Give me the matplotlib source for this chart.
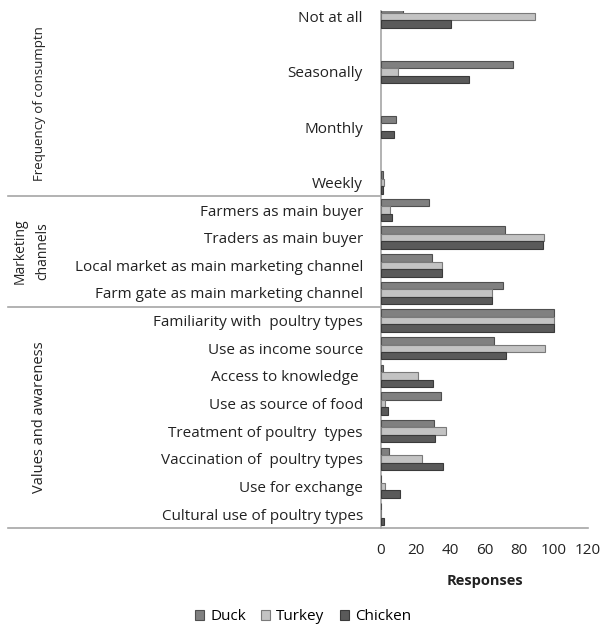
import matplotlib
matplotlib.use("Agg")
import matplotlib.pyplot as plt
from matplotlib.patches import Patch
from matplotlib.transforms import blended_transform_factory

plt.rcParams['font.family'] = ['Open Sans', 'DejaVu Sans']

# ---- data (top to bottom) ----
groups = ["Frequency of consumptn", "Marketing\nchannels", "Values and awareness"]
group_sizes = [4, 4, 8]
categories = [
    "Not at all", "Seasonally", "Monthly", "Weekly",
    "Farmers as main buyer", "Traders as main buyer",
    "Local market as main marketing channel", "Farm gate as main marketing channel",
    "Familiarity with  poultry types", "Use as income source", "Access to knowledge ",
    "Use as source of food", "Treatment of poultry  types", "Vaccination of  poultry types",
    "Use for exchange", "Cultural use of poultry types",
]
duck = [13, 76.5, 8.5, 1, 27.7, 72, 29.3, 70.9, 100, 65.3, 1, 34.5, 30.8, 4.4, 0, 0]
turkey = [89, 10, 0, 1.5, 5.2, 94.6, 35.5, 64.4, 100, 95.2, 21.4, 2.1, 37.6, 23.9, 2.3, 0]
chicken = [40.5, 51, 7.3, 1.2, 6.2, 93.8, 35.6, 64.5, 100, 72.3, 29.9, 3.9, 31.2, 36, 10.8, 1.9]
series_names = ["Duck", "Turkey", "Chicken"]
xticks = [0, 20, 40, 60, 80, 100, 120]

fills = ["#808080", "#c3c3c3", "#5a5a5a"]
edges = ["#4f4f4f", "#7a7a7a", "#3a3a3a"]
txt = "#222222"

# category slot positions: first group uses double spacing
slot_step = [2, 1, 1]
flat_steps = []
for g, n in enumerate(group_sizes):
    flat_steps += [slot_step[g]] * n
positions_rev = []
cur = 0
for step in reversed(flat_steps):
    positions_rev.append(cur)
    cur += step
pos = list(reversed(positions_rev))

W, H = 602, 628
fig = plt.figure(figsize=(W / 100, H / 100), dpi=100)
x0, x1, ytop, ybot = 381, 588, 11, 528
ax = fig.add_axes([x0 / W, (H - ybot) / H, (x1 - x0) / W, (ybot - ytop) / H])

px_per_unit = 27.65
ylim_low = -0.5
ylim_high = ylim_low + (ybot - ytop) / px_per_unit

bh = 0.27
offsets = [bh, 0, -bh]
for vals, off, fc, ec, name in zip([duck, turkey, chicken], offsets, fills, edges, series_names):
    ax.barh([p + off for p in pos], vals, height=bh, color=fc, edgecolor=ec,
            linewidth=0.8, label=name, zorder=3)

ax.set_xlim(0, 120)
ax.set_ylim(ylim_low, ylim_high)
ax.set_xticks(xticks)
ax.set_xticklabels([str(t) for t in xticks], fontsize=11, color=txt)
ax.tick_params(axis='x', length=0, pad=11)
ax.set_yticks(pos)
ax.set_yticklabels(categories, fontsize=11, color=txt)
ax.tick_params(axis='y', length=0, pad=13)
for s in ["top", "right"]:
    ax.spines[s].set_visible(False)
for s in ["left", "bottom"]:
    ax.spines[s].set_color("#a6a6a6")
    ax.spines[s].set_linewidth(1.2)
ax.set_xlabel("Responses", fontsize=10.5, fontweight="bold", labelpad=11, color=txt)

# group separators and labels
trans_line = blended_transform_factory(fig.transFigure, ax.transData)
group_fs = [9.5, 10, 10.5]
start = 0
for g, n in enumerate(group_sizes):
    idx = list(range(start, start + n))
    lo = pos[idx[-1]] - 0.5
    hi = ylim_high if g == 0 else pos[idx[0]] + 0.5
    ax.plot([8 / W, x0 / W], [lo, lo], transform=trans_line, color="#a6a6a6",
            linewidth=1.2, clip_on=False)
    cy = (lo + hi) / 2
    lines = groups[g].split("\n")
    if len(lines) == 2:
        xs = [20, 43]
    else:
        xs = [40]
    for k, t in enumerate(lines):
        fig.text(xs[k] / W, cy, t, rotation=90, ha="center", va="center",
                 fontsize=group_fs[g], color=txt, transform=trans_line)
    start += n

handles = [Patch(facecolor=fc, edgecolor=ec, linewidth=0.8) for fc, ec in zip(fills, edges)]
fig.legend(handles, series_names, loc="center", bbox_to_anchor=(303 / W, 1 - 617 / H),
           ncol=3, frameon=False, fontsize=11, handlelength=0.6, handleheight=0.6,
           columnspacing=1.0, handletextpad=0.4)

fig.savefig("out.png", dpi=100)
